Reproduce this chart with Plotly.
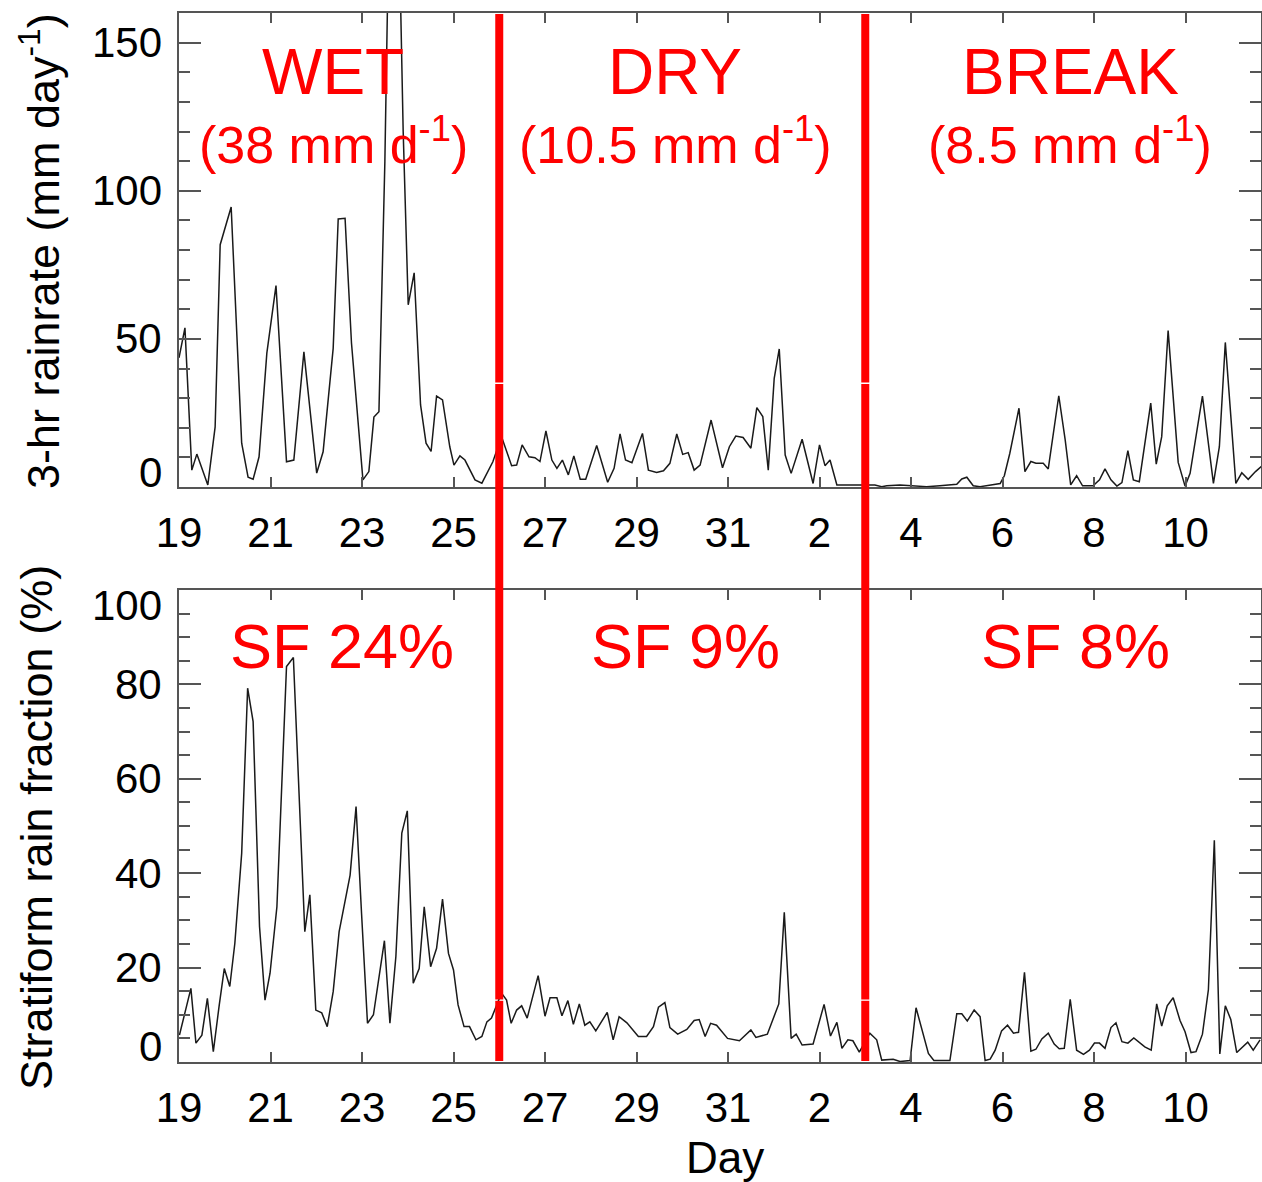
import plotly.graph_objects as go

# ---------------- data ----------------
# 3-hr rain rate (mm/day); day number continues past 31 (32 = Feb 1)
rain_day = [19.00,19.13,19.28,19.39,19.63,19.79,19.90,20.14,20.37,20.51,
            20.62,20.75,20.92,21.12,21.35,21.51,21.73,22.01,22.15,22.37,
            22.48,22.63,22.77,23.02,23.15,23.26,23.37,23.50,23.63,23.77,
            23.90,24.01,24.14,24.28,24.40,24.51,24.63,24.76,24.92,25.01,
            25.14,25.25,25.47,25.62,25.86,
            26.05,26.27,26.38,26.50,26.65,26.78,26.89,27.02,27.15,27.26,
            27.38,27.51,27.63,27.77,27.89,28.13,28.37,28.51,28.64,28.76,
            28.90,29.13,29.26,29.44,29.59,29.73,29.88,30.01,30.13,30.26,
            30.39,30.63,30.88,31.03,31.17,31.33,31.50,31.63,31.76,31.88,
            32.01,32.12,32.25,32.38,32.62,32.86,33.00,33.12,33.23,33.38,
            33.89,
            34.07,34.21,34.36,34.47,34.76,34.98,35.34,35.63,36.00,36.11,
            36.22,36.36,36.51,36.95,37.04,37.16,37.36,37.49,37.62,37.73,
            37.89,38.00,38.23,38.37,38.49,38.62,38.75,38.98,39.12,39.24,
            39.37,39.50,39.61,39.74,39.86,39.99,40.24,40.36,40.48,40.62,
            40.84,40.99,41.10,41.37,41.61,41.74,41.87,42.10,42.23,42.37,
            42.53,42.67,42.75]
rain_mm = [43.6,53.7,5.7,11.1,0.7,20.3,81.8,94.5,14.8,3.3,
           2.6,10.2,45.2,68,8.5,9.1,45.6,4.7,11.9,46.8,
           90.5,90.7,48.6,2.4,5.2,23.6,25.4,110,230,220,
           120,61.5,72.3,27.7,14.8,12,30.7,29.4,13.5,7.4,
           10.5,9.1,2.4,1.3,8.5,
           17.0,7.2,7.4,14.2,10.2,9.9,8.6,18.9,9.1,6.3,
           9.1,4.1,10.5,2.6,2.6,14.0,1.6,6.3,17.9,9.1,
           8.2,18.1,5.7,4.9,5.5,8.0,17.9,11.0,11.6,5.7,
           7.4,22.6,6.5,13.6,17.2,16.7,13.1,26.8,23.8,5.7,
           36.7,46.6,10.8,4.6,16.1,1.2,14.2,7.2,9.1,0.7,
           0.7,
           0.9,0.7,0.1,0.4,0.7,0.4,0.1,0.4,0.9,2.7,
           3.3,0.4,0.1,1.2,3.8,11.4,26.6,5.2,8.6,8.0,
           8.0,6.1,30.8,15.9,0.7,3.8,0.4,0.4,2.4,6.1,
           2.4,0.3,1.5,12.3,2.4,1.8,28.3,7.7,17.0,52.8,
           8.3,0.3,4.6,30.7,1.2,13.6,48.8,1.2,4.8,2.6,
           5.2,7.1,50]

# stratiform rain fraction (%)
sf_day = [19.01,19.26,19.37,19.50,19.62,19.75,19.88,19.99,20.11,20.22,
          20.37,20.50,20.62,20.76,20.88,20.99,21.14,21.35,21.50,21.75,
          21.86,21.99,22.12,22.24,22.37,22.50,22.74,22.87,22.99,23.12,
          23.25,23.49,23.61,23.74,23.87,23.99,24.12,24.25,24.36,24.50,
          24.63,24.76,24.89,25.00,25.10,25.23,25.35,25.49,25.62,25.73,
          25.83,
          26.05,26.16,26.26,26.38,26.49,26.61,26.85,27.00,27.11,27.26,
          27.37,27.50,27.62,27.75,27.87,27.98,28.11,28.36,28.49,28.62,
          28.79,29.04,29.22,29.37,29.48,29.62,29.73,29.90,30.10,30.26,
          30.37,30.50,30.62,30.75,30.99,31.25,31.50,31.61,31.86,32.11,
          32.23,32.38,32.49,32.62,32.86,33.10,33.24,33.38,33.49,33.62,
          33.73,33.87,
          34.10,34.25,34.36,34.61,34.76,34.98,35.11,35.38,35.50,35.85,
          36.00,36.11,36.23,36.38,36.51,36.62,36.73,36.84,36.98,37.11,
          37.24,37.35,37.48,37.62,37.73,37.86,38.00,38.13,38.24,38.35,
          38.48,38.62,38.77,38.90,39.01,39.12,39.24,39.37,39.48,39.61,
          39.74,39.87,40.11,40.25,40.37,40.48,40.60,40.73,40.88,40.99,
          41.12,41.23,41.37,41.50,41.63,41.75,41.87,41.99,42.12,42.36,
          42.48,42.63]
sf_pct = [5.7,15.6,4.0,5.7,13.5,2.2,12.1,19.8,16.0,25.1,
          44.2,79.2,72.1,28.7,13.1,18.8,32.9,83.8,85.7,27.6,
          35.4,11.0,10.4,7.5,14.9,27.6,39.6,54.1,31.5,8.2,
          10.0,25.7,8.2,22.3,48.5,53.2,16.7,19.8,32.9,20.2,
          24.1,34.5,23.0,19.5,12.1,7.5,7.5,4.7,5.4,8.5,
          9.3,
          14.6,13.1,8.2,11.0,11.9,9.3,18.3,9.7,13.6,13.6,
          9.8,13.0,8.0,12.3,7.8,8.5,6.6,10.5,4.7,9.6,
          8.3,5.4,5.4,7.5,11.6,12.6,7.3,5.9,6.9,8.8,
          9.0,5.4,8.2,7.8,5.0,4.5,6.8,5.2,5.9,12.3,
          31.7,5.0,5.9,3.6,3.8,12.2,5.5,8.4,2.9,4.7,
          4.5,2.1,
          6.1,4.7,0.4,0.6,0.1,0.3,11.5,1.8,0.3,0.3,
          10.2,10.2,8.7,11.0,9.6,0.3,0.6,2.5,6.6,7.8,
          6.1,6.3,19.0,2.3,2.7,4.9,6.1,3.8,2.8,2.9,
          13.3,2.5,1.6,2.5,4.0,4.0,2.9,7.3,8.3,4.3,
          4.0,5.1,3.2,2.5,12.3,7.6,11.9,13.6,8.8,6.4,
          2.0,2.2,5.9,15.3,47,1.7,11.9,9.0,2.0,4.2,
          2.5,4.7]

x_tick_vals = [19, 21, 23, 25, 27, 29, 31, 33, 35, 37, 39, 41]
x_tick_text = ["19", "21", "23", "25", "27", "29", "31", "2", "4", "6", "8", "10"]
rain_ticks = [0, 50, 100, 150]
sf_ticks = [0, 20, 40, 60, 80, 100]
period_bounds = [26, 34]
period_names = ["WET", "DRY", "BREAK"]
period_rates = ["38", "10.5", "8.5"]
period_sf = ["SF 24%", "SF 9%", "SF 8%"]

# ---------------- layout helpers ----------------
W, H = 1262, 1182
L, R = 179, 1
PW = W - L - R


def px(x):
    return (x - L) / PW


def py(y):
    return 1 - y / H


FONT = "Liberation Sans, Arial, Helvetica, sans-serif"
AXC = "#555555"

fig = go.Figure()
fig.add_trace(go.Scatter(x=rain_day, y=rain_mm, mode="lines",
                         line=dict(color="#1a1a1a", width=1.5),
                         xaxis="x", yaxis="y", showlegend=False))
fig.add_trace(go.Scatter(x=sf_day, y=sf_pct, mode="lines",
                         line=dict(color="#1a1a1a", width=1.5),
                         xaxis="x2", yaxis="y2", showlegend=False))

xcommon = dict(range=[19, 42.65], tickvals=x_tick_vals, ticktext=x_tick_text,
               ticks="inside", ticklen=10, tickwidth=1.5, tickcolor=AXC,
               showline=True, linecolor=AXC, linewidth=2, mirror="ticks",
               showgrid=False, zeroline=False, ticklabelstandoff=8,
               tickfont=dict(family=FONT, size=42, color="black"))
ycommon = dict(ticks="inside", ticklen=22, tickwidth=1.5, tickcolor=AXC,
               showline=True, linecolor=AXC, linewidth=2, mirror="ticks",
               showgrid=False, zeroline=False, showticklabels=False)

fig.update_layout(
    width=W, height=H,
    margin=dict(l=L, r=R, t=0, b=0),
    paper_bgcolor="white", plot_bgcolor="white",
    xaxis=dict(domain=[0, 1], anchor="y", **xcommon),
    yaxis=dict(domain=[py(487), py(13)], anchor="x", range=[0, 160],
               tickvals=rain_ticks,
               minor=dict(ticks="inside", ticklen=11, dtick=10, tickcolor=AXC, tickwidth=1.5),
               **ycommon),
    xaxis2=dict(domain=[0, 1], anchor="y2", **xcommon),
    yaxis2=dict(domain=[py(1062), py(590)], anchor="x2", range=[0, 100],
                tickvals=sf_ticks,
                minor=dict(ticks="inside", ticklen=11, dtick=5, tickcolor=AXC, tickwidth=1.5),
                **ycommon),
)

ann = []
# y tick labels (IDL style: end labels nudged inward)
for i, v in enumerate(rain_ticks):
    shift = 15 if i == 0 else 0
    ann.append(dict(x=0, xref="x domain", y=v, yref="y", text=str(v),
                    xanchor="right", yanchor="middle", xshift=-15, yshift=shift,
                    showarrow=False, font=dict(family=FONT, size=42, color="black")))
for i, v in enumerate(sf_ticks):
    shift = 16 if i == 0 else (-15 if i == len(sf_ticks) - 1 else 0)
    ann.append(dict(x=0, xref="x2 domain", y=v, yref="y2", text=str(v),
                    xanchor="right", yanchor="middle", xshift=-15, yshift=shift,
                    showarrow=False, font=dict(family=FONT, size=42, color="black")))

# axis titles
ann.append(dict(x=px(40), y=py(251), xref="paper", yref="paper",
                text="3-hr rainrate (mm day<sup>-1</sup>)", textangle=-90,
                showarrow=False, xanchor="center", yanchor="middle",
                font=dict(family=FONT, size=45, color="black")))
ann.append(dict(x=px(36), y=py(828), xref="paper", yref="paper",
                text="Stratiform rain fraction (%)", textangle=-90,
                showarrow=False, xanchor="center", yanchor="middle",
                font=dict(family=FONT, size=45, color="black")))
ann.append(dict(x=px(725), y=py(1157), xref="paper", yref="paper", text="Day",
                showarrow=False, xanchor="center", yanchor="middle",
                font=dict(family=FONT, size=44, color="black")))

# red period labels
name_x = [333, 675, 1070]
sf_x = [342, 685, 1075]
for i in range(3):
    ann.append(dict(x=px(name_x[i]), y=py(72), xref="paper", yref="paper",
                    text=period_names[i], showarrow=False,
                    xanchor="center", yanchor="middle",
                    font=dict(family=FONT, size=64, color="#FF0000")))
    ann.append(dict(x=px(name_x[i]), y=py(141), xref="paper", yref="paper",
                    text="(" + period_rates[i] + " mm d<sup>-1</sup>)", showarrow=False,
                    xanchor="center", yanchor="middle",
                    font=dict(family=FONT, size=52, color="#FF0000")))
    ann.append(dict(x=px(sf_x[i]), y=py(646), xref="paper", yref="paper",
                    text=period_sf[i], showarrow=False,
                    xanchor="center", yanchor="middle",
                    font=dict(family=FONT, size=63, color="#FF0000")))

fig.update_layout(annotations=ann)

# red separators (two stacked pieces with hairline gaps, as in the original)
shapes = []
segments = [(14, 382.5), (384, 999.5), (1000.8, 1061)]
for b in period_bounds:
    for y0, y1 in segments:
        shapes.append(dict(type="line", xref="x", yref="paper", x0=b, x1=b,
                           y0=py(y1), y1=py(y0),
                           line=dict(color="#FF0000", width=8)))
fig.update_layout(shapes=shapes)

fig.write_html("out.html")
